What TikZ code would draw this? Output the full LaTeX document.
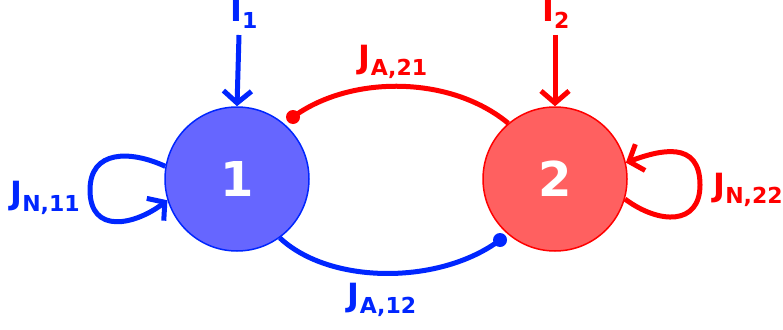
\documentclass[tikz,border=0pt]{standalone}
\usepackage{fontspec}
\setmainfont{DejaVu Sans}
\usetikzlibrary{arrows.meta}
\definecolor{bl}{RGB}{0,38,255}
\definecolor{blfill}{RGB}{102,102,255}
\definecolor{rd}{RGB}{255,0,0}
\definecolor{rdfill}{RGB}{255,96,96}
\newcommand{\lbl}[2]{#1\raisebox{-7pt}{\fontsize{22}{22}\selectfont #2}}
\begin{document}
\begin{tikzpicture}[x=1pt,y=-1pt,
  neuron/.style={circle,minimum size=144pt,inner sep=0pt,line width=1.5pt,
    text=white,font=\bfseries\fontsize{48}{48}\selectfont},
  lab/.style={inner sep=0pt,font=\bfseries\fontsize{32}{32}\selectfont},
  conn/.style={line width=5pt},
  barb/.style={-{Straight Barb[length=12pt,width=28pt]}},
  dot/.style={circle,inner sep=0pt,minimum size=14pt}]
\useasboundingbox (0,0) rectangle (783,329);
\node[neuron,draw=bl,fill=blfill] (n1) at (237,179) {1};
\node[neuron,draw=rd,fill=rdfill] (n2) at (555,179) {2};
% input labels
\node[lab,text=bl,anchor=base west] (i1) at (230,22) {\lbl{I}{1}};
\node[lab,text=rd,anchor=base west] (i2) at (542,22) {\lbl{I}{2}};
\coordinate (i1s) at (239,35);
\coordinate (i2s) at (555,35);
\draw[conn,bl,barb] (i1s) -- (n1.north);
\draw[conn,rd,barb] (i2s) -- (n2.north);
% cross connections
\coordinate (d21) at (293,117);
\coordinate (d12) at (500,240);
\draw[conn,rd] (n2.130) .. controls (450,75) and (350,75) .. (d21);
\node[dot,fill=rd] (dot21) at (d21) {};
\draw[conn,bl] (n1.-54) .. controls (330,285) and (440,285) .. (d12);
\node[dot,fill=bl] (dot12) at (d12) {};
\node[lab,text=rd] (ja21) at (393,62) {\lbl{J}{A,21}};
\node[lab,text=bl] (ja12) at (382,300) {\lbl{J}{A,12}};
% self loops
\draw[conn,bl,barb] (n1.170) .. controls (130,150) and (90,150) .. (90,190)
  .. controls (90,235) and (135,225) .. (n1.197);
\draw[conn,rd,barb] (n2.-16) .. controls (660,225) and (700,225) .. (700,185)
  .. controls (700,140) and (660,150) .. (n2.13);
\node[lab,text=bl] (jn11) at (45,198) {\lbl{J}{N,11}};
\node[lab,text=rd] (jn22) at (748,190) {\lbl{J}{N,22}};
\end{tikzpicture}
\end{document}
